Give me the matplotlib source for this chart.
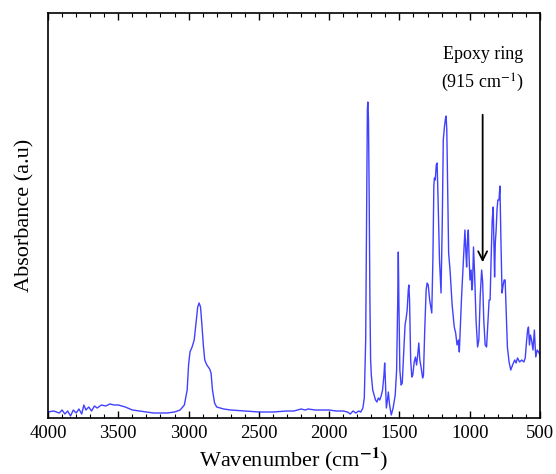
import numpy as np
import matplotlib
matplotlib.use('Agg')
import matplotlib.pyplot as plt
from matplotlib.ticker import MultipleLocator

plt.rcParams['font.family'] = ['Liberation Serif', 'DejaVu Serif']
plt.rcParams['mathtext.fontset'] = 'stix'

# FTIR spectrum: wavenumber (cm-1) and absorbance (a.u.)
wavenumber = [4000, 3960, 3920, 3900, 3880, 3860, 3840, 3820, 3800, 3780, 3760, 3745,
              3730, 3710, 3690, 3670, 3650, 3620, 3590, 3560, 3530, 3500, 3450, 3400,
              3350, 3300, 3250, 3200, 3150, 3100, 3060, 3030, 3010, 3000, 2990, 2975,
              2960, 2945, 2935, 2925, 2915, 2905, 2895, 2885, 2870, 2850, 2840, 2830,
              2815, 2800, 2750, 2700, 2600, 2500, 2400, 2300, 2250, 2200, 2170, 2150,
              2100, 2050, 2000, 1950, 1900, 1870, 1850, 1830, 1810, 1790, 1775, 1760,
              1750, 1740, 1733, 1728, 1725, 1720, 1715, 1710, 1705, 1700, 1690, 1680,
              1670, 1660, 1650, 1640, 1630, 1620, 1610, 1605, 1600, 1593, 1585, 1579,
              1570, 1558, 1545, 1530, 1520, 1512, 1508, 1504, 1497, 1488, 1480, 1470,
              1460, 1452, 1445, 1437, 1433, 1428, 1420, 1412, 1405, 1395, 1386, 1378,
              1370, 1362, 1355, 1345, 1335, 1329, 1320, 1310, 1303, 1295, 1285, 1270,
              1262, 1255, 1251, 1245, 1238, 1232, 1225, 1215, 1204, 1195, 1188, 1180,
              1172, 1168, 1163, 1155, 1150, 1140, 1125, 1110, 1100, 1090, 1080, 1074,
              1065, 1058, 1045, 1034, 1028, 1022, 1016, 1010, 1005, 998, 990, 985,
              980, 973, 965, 955, 944, 935, 925, 915, 908, 900, 890, 880,
              870, 862, 855, 848, 840, 833, 828, 823, 818, 812, 806, 800,
              792, 785, 778, 770, 762, 755, 748, 740, 732, 720, 708, 695,
              680, 670, 660, 645, 630, 615, 605, 595, 588, 582, 575, 568,
              560, 550, 540, 535, 530, 520, 510, 500]

pix = [412, 411, 413, 410, 414, 411, 416, 410, 413, 409, 414, 405,
       410, 407, 411, 406, 408, 405, 406, 404, 405, 405, 407, 410,
       411, 412, 413, 413, 413, 412, 410, 405, 390, 365, 352, 347,
       340, 320, 307, 303, 307, 325, 345, 360, 365, 369, 373, 390,
       403, 407, 409, 410, 411, 412, 412, 411, 411, 409, 410, 409,
       410, 410, 410, 411, 411, 412, 414, 411, 413, 411, 412, 408,
       398, 340, 200, 110, 102, 120, 200, 300, 360, 375, 390, 395,
       400, 402, 398, 400, 396, 390, 375, 363, 380, 408, 400, 392,
       405, 415, 408, 395, 370, 300, 252, 300, 370, 385, 383, 355,
       325, 318, 310, 290, 285, 300, 360, 377, 375, 362, 357, 365,
       355, 343, 360, 368, 378, 375, 330, 290, 283, 285, 300, 313,
       260, 185, 178, 180, 165, 163, 200, 260, 293, 220, 140, 127,
       118, 116, 130, 210, 253, 270, 305, 327, 333, 345, 340, 352,
       320, 297, 260, 230, 250, 267, 240, 230, 255, 280, 270, 290,
       285, 247, 275, 320, 347, 340, 295, 270, 282, 320, 345, 347,
       320, 300, 300, 260, 220, 207, 240, 277, 243, 230, 210, 200,
       200, 186, 240, 293, 285, 280, 280, 315, 347, 362, 370, 365,
       360, 363, 358, 362, 360, 362, 358, 340, 330, 327, 345, 335,
       340, 350, 330, 345, 357, 350, 352, 355]

absorbance = (418 - np.array(pix)) / 405.0

fig = plt.figure(figsize=(5.56, 4.74), dpi=100)
ax = fig.add_axes([48/556, 1 - 418/474, 492/556, 405/474])

ax.plot(wavenumber, absorbance, color='#4040ff', lw=1.0)

ax.set_xlim(4000, 500)
ax.set_ylim(0, 1)
ax.xaxis.set_major_locator(MultipleLocator(500))
ax.xaxis.set_minor_locator(MultipleLocator(100))
ax.tick_params(axis='x', which='both', direction='in', top=True, labelsize=13.5, pad=5)
ax.tick_params(axis='x', which='major', length=5, width=1)
ax.tick_params(axis='x', which='minor', length=3, width=0.8)
ax.set_yticks([])
for s in ax.spines.values():
    s.set_linewidth(1.2)

ax.set_xlabel(r'Wavenumber (cm$^{\mathbf{-1}}$)', fontsize=16, labelpad=3)
ax.set_ylabel('Absorbance (a.u)', fontsize=16, labelpad=10)

# epoxy ring marker
ax.annotate('', xy=(908, (418 - 265) / 405), xytext=(908, (418 - 112) / 405),
            arrowprops=dict(arrowstyle='->', color='black', lw=1.3, mutation_scale=16))
ax.text(908, (418 - 70) / 405, 'Epoxy ring\n(915 cm$^{-1}$)', ha='center', va='center',
        fontsize=13, linespacing=1.5)

fig.savefig('out.png', dpi=100)
